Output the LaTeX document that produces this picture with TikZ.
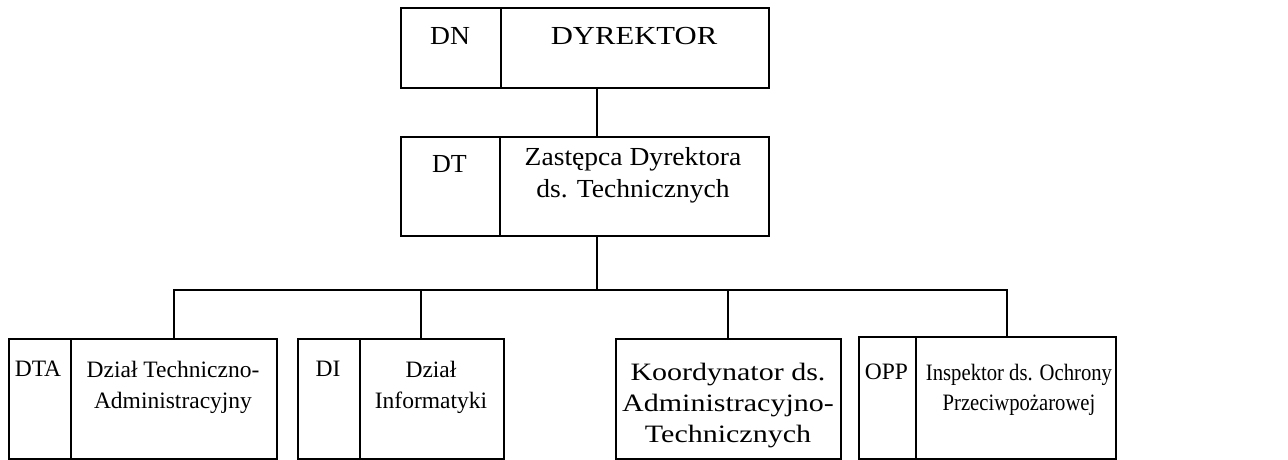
\documentclass[tikz,border=0pt]{standalone}
\usepackage{fontspec}
\setmainfont{Liberation Serif}
\newfontfamily\wideA[FakeStretch=1.06]{Liberation Serif}
\newfontfamily\wideB[FakeStretch=1.18]{Liberation Serif}
\newfontfamily\wideC[FakeStretch=1.2]{Liberation Serif}
\newfontfamily\narrowA[FakeStretch=0.88]{Liberation Serif}
\begin{document}
\begin{tikzpicture}[x=1pt,y=-1pt,
  cell/.style={draw, rectangle, inner sep=0pt, anchor=north west, line width=1.5pt},
  lbl/.style={anchor=north, inner sep=0pt, align=center},
  conn/.style={line width=1.5pt}]
\useasboundingbox (0,0) rectangle (1288,459);
% top boxes
\node[cell, minimum width=100pt, minimum height=80pt] (dnL) at (400,7) {};
\node[cell, minimum width=268pt, minimum height=80pt] (dnR) at (500,7) {};
\node[cell, minimum width=99pt, minimum height=99pt] (dtL) at (400,136) {};
\node[cell, minimum width=269pt, minimum height=99pt] (dtR) at (499,136) {};
% bottom boxes
\node[cell, minimum width=62pt, minimum height=120pt] (aL) at (8,338) {};
\node[cell, minimum width=206pt, minimum height=120pt] (aR) at (70,338) {};
\node[cell, minimum width=62pt, minimum height=120pt] (bL) at (297,338) {};
\node[cell, minimum width=144pt, minimum height=120pt] (bR) at (359,338) {};
\node[cell, minimum width=225pt, minimum height=120pt] (c) at (615,338) {};
\node[cell, minimum width=57pt, minimum height=122pt] (dL) at (858,336) {};
\node[cell, minimum width=200pt, minimum height=122pt] (dR) at (915,336) {};
% texts
\node[lbl, font=\wideA\fontsize{26}{32}\selectfont] (tdn) at (450,27.3) {DN};
\node[lbl, font=\wideB\fontsize{26}{32}\selectfont] (tdyr) at (634,27.3) {DYREKTOR};
\node[lbl, font=\fontsize{26}{32}\selectfont] (tdt) at (449.5,155.3) {DT};
\node[lbl, font=\wideA\fontsize{26}{32}\selectfont] (tzast) at (633,147.3) {Zastępca Dyrektora\\ds. Technicznych};
\node[lbl, font=\fontsize{23.5}{31}\selectfont] (tdta) at (38,361) {DTA};
\node[lbl, font=\fontsize{23.5}{31}\selectfont] (tdzt) at (173,361) {Dział Techniczno-\\Administracyjny};
\node[lbl, font=\fontsize{23.5}{31}\selectfont] (tdi) at (328,361) {DI};
\node[lbl, font=\fontsize{23.5}{31}\selectfont] (tdzi) at (431,361) {Dział\\Informatyki};
\node[lbl, font=\wideC\fontsize{25}{31}\selectfont] (tkoord) at (728,363) {Koordynator ds.\\Administracyjno-\\Technicznych};
\node[lbl, font=\fontsize{23.5}{30}\selectfont] (topp) at (886.5,364) {OPP};
\node[lbl, font=\narrowA\fontsize{23.5}{30}\selectfont] (tinsp) at (1019,364) {Inspektor ds. Ochrony\\Przeciwpożarowej};
% connectors
\coordinate (topDrop) at ([xshift=97pt]dnR.south west);
\coordinate (dtTop) at ([xshift=98pt]dtR.north west);
\coordinate (dtBot) at ([xshift=98pt]dtR.south west);
\coordinate (bus) at (597,290);
\coordinate (aTop) at (aR.north);
\coordinate (bTop) at ([xshift=62pt]bR.north west);
\coordinate (cTop) at ([xshift=113pt]c.north west);
\coordinate (dTop) at ([xshift=92pt]dR.north west);
\draw[conn] (topDrop) -- (dtTop);
\draw[conn] (dtBot) -- (bus);
\draw[conn] (aTop) -- (aTop |- bus) -- (dTop |- bus) -- (dTop);
\draw[conn] (bTop) -- (bTop |- bus);
\draw[conn] (cTop) -- (cTop |- bus);
\end{tikzpicture}
\end{document}
